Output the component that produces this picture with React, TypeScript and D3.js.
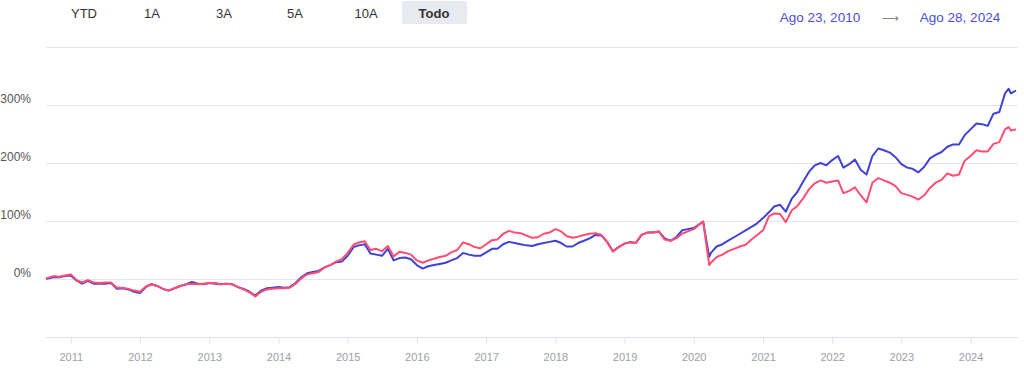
import * as d3 from "d3";
import { useEffect, useRef } from "react";

// fecha de cada punto (mensual, más algún día especial)
const dates = [
  "2010-08-23", "2010-09-01", "2010-10-01", "2010-11-01", "2010-12-01",
  "2011-01-01", "2011-02-01", "2011-03-01", "2011-04-01", "2011-05-01", "2011-06-01",
  "2011-07-01", "2011-08-01", "2011-09-01", "2011-10-01", "2011-11-01", "2011-12-01",
  "2012-01-01", "2012-02-01", "2012-03-01", "2012-04-01", "2012-05-01", "2012-06-01",
  "2012-07-01", "2012-08-01", "2012-09-01", "2012-10-01", "2012-11-01", "2012-12-01",
  "2013-01-01", "2013-02-01", "2013-03-01", "2013-04-01", "2013-05-01", "2013-06-01",
  "2013-07-01", "2013-08-01", "2013-09-01", "2013-10-01", "2013-11-01", "2013-12-01",
  "2014-01-01", "2014-02-01", "2014-03-01", "2014-04-01", "2014-05-01", "2014-06-01",
  "2014-07-01", "2014-08-01", "2014-09-01", "2014-10-01", "2014-11-01", "2014-12-01",
  "2015-01-01", "2015-02-01", "2015-03-01", "2015-04-01", "2015-05-01", "2015-06-01",
  "2015-07-01", "2015-08-01", "2015-09-01", "2015-10-01", "2015-11-01", "2015-12-01",
  "2016-01-01", "2016-02-01", "2016-03-01", "2016-04-01", "2016-05-01", "2016-06-01",
  "2016-07-01", "2016-08-01", "2016-09-01", "2016-10-01", "2016-11-01", "2016-12-01",
  "2017-01-01", "2017-02-01", "2017-03-01", "2017-04-01", "2017-05-01", "2017-06-01",
  "2017-07-01", "2017-08-01", "2017-09-01", "2017-10-01", "2017-11-01", "2017-12-01",
  "2018-01-01", "2018-02-01", "2018-03-01", "2018-04-01", "2018-05-01", "2018-06-01",
  "2018-07-01", "2018-08-01", "2018-09-01", "2018-10-01", "2018-11-01", "2018-12-01",
  "2019-01-01", "2019-02-01", "2019-03-01", "2019-04-01", "2019-05-01", "2019-06-01",
  "2019-07-01", "2019-08-01", "2019-09-01", "2019-10-01", "2019-11-01", "2019-12-01",
  "2020-01-01", "2020-02-20", "2020-03-23", "2020-04-01", "2020-05-01", "2020-06-01",
  "2020-07-01", "2020-08-01", "2020-09-01", "2020-10-01", "2020-11-01", "2020-12-01",
  "2021-01-01", "2021-02-01", "2021-03-01", "2021-04-01", "2021-05-01", "2021-06-01",
  "2021-07-01", "2021-08-01", "2021-09-01", "2021-10-01", "2021-11-01", "2021-12-01",
  "2022-01-01", "2022-02-01", "2022-03-01", "2022-04-01", "2022-05-01", "2022-06-01",
  "2022-07-01", "2022-08-01", "2022-09-01", "2022-10-01", "2022-11-01", "2022-12-01",
  "2023-01-01", "2023-02-01", "2023-03-01", "2023-04-01", "2023-05-01", "2023-06-01",
  "2023-07-01", "2023-08-01", "2023-09-01", "2023-10-01", "2023-11-01", "2023-12-01",
  "2024-01-01", "2024-02-01", "2024-03-01", "2024-04-01", "2024-05-01", "2024-06-01",
  "2024-07-01", "2024-07-20", "2024-08-01", "2024-08-28",
];

// rentabilidad acumulada en %, serie azul
const blueSeries = [
  0, 1, 3, 3, 5,
  6, -3, -8, -3, -8, -8,
  -8, -7, -17, -16, -18, -22,
  -24, -14, -9, -12, -17, -20,
  -16, -12, -9, -5, -8, -9,
  -7, -8, -9, -8, -9, -14,
  -17, -22, -29, -20, -16, -15,
  -14, -15, -14, -7, 3, 10,
  12, 14, 20, 24, 29, 30,
  40, 55, 58, 60, 44, 42,
  40, 52, 32, 36, 37, 34,
  24, 18, 22, 24, 26, 28,
  32, 36, 45, 42, 40, 40,
  46, 52, 52, 60, 64, 62,
  60, 58, 57, 60, 62, 64,
  66, 62, 56, 56, 62, 66,
  70, 76, 75, 64, 48, 55,
  61, 64, 62, 76, 80, 80,
  82, 70, 66, 72, 84, 86,
  88, 99, 38, 45, 56, 60,
  66, 72, 78, 84, 90, 96,
  105, 115, 125, 128, 116, 138,
  150, 168, 185, 196, 200, 196,
  205, 212, 192, 198, 206, 188,
  180, 212, 225, 222, 218, 210,
  198, 192, 190, 184, 193, 208,
  214, 219, 228, 232, 232, 248,
  258, 268, 267, 264, 285, 288,
  320, 328, 320, 325,
];

// rentabilidad acumulada en %, serie roja
const redSeries = [
  0, 2, 5, 4, 6,
  8, -2, -6, -2, -6, -7,
  -6, -6, -15, -15, -17, -20,
  -22, -13, -9, -12, -17, -20,
  -16, -12, -9, -8, -9, -8,
  -7, -7, -9, -8, -9, -14,
  -18, -23, -30, -22, -18, -17,
  -16, -16, -15, -8, 1, 8,
  10, 12, 20, 24, 30, 34,
  45, 59, 63, 65, 50, 52,
  48, 57, 39, 47, 45, 42,
  32, 28, 32, 35, 38, 40,
  46, 50, 63, 60, 55, 53,
  60, 67, 68, 78, 83, 80,
  79, 75, 71, 72, 78, 80,
  86, 82, 74, 71, 73, 76,
  78, 79, 76, 64, 47, 55,
  61, 63, 62, 76, 80, 80,
  82, 68, 66, 70, 78, 82,
  86, 99, 24, 28, 38, 42,
  48, 52, 56, 59, 68, 76,
  84, 108, 113, 112, 98, 118,
  126, 139, 155, 165, 170, 166,
  168, 170, 148, 152, 158, 144,
  132, 166, 174, 170, 166, 160,
  148, 145, 142, 137, 144, 157,
  166, 171, 182, 178, 180, 204,
  212, 222, 220, 220, 233, 236,
  258, 262, 256, 258,
];

const yTicks = [0, 100, 200, 300];
const gridValues = [0, 100, 200, 300, 400];
const rangeButtons = ["YTD", "1A", "3A", "5A", "10A", "Todo"];
const startLabel = "Ago 23, 2010";
const endLabel = "Ago 28, 2024";

const W = 1024;
const H = 370;
const margin = { top: 47, right: 8, bottom: 33, left: 46 };

export default function App() {
  const svgRef = useRef<SVGSVGElement>(null);

  useEffect(() => {
    document.body.style.margin = "0";
    const svg = d3.select(svgRef.current).html("");
    const font = "'Liberation Sans', Arial, sans-serif";

    const parse = d3.timeParse("%Y-%m-%d");
    const times = dates.map((d) => parse(d) as Date);

    const x = d3
      .scaleTime()
      .domain([times[0], times[times.length - 1]])
      .range([margin.left, W - margin.right]);
    const y = d3
      .scaleLinear()
      .domain([-100, 400])
      .range([H - margin.bottom, margin.top]);

    // botones de rango
    const btnX = [84, 152, 224, 295, 366, 434];
    svg
      .append("rect")
      .attr("x", 402)
      .attr("y", 1)
      .attr("width", 65)
      .attr("height", 23)
      .attr("rx", 2)
      .attr("fill", "#e7eaf0");
    svg
      .selectAll(".btn")
      .data(rangeButtons)
      .enter()
      .append("text")
      .attr("x", (_, i) => btnX[i])
      .attr("y", 17.5)
      .attr("text-anchor", "middle")
      .attr("font-family", font)
      .attr("font-size", 13)
      .attr("font-weight", (d) => (d === "Todo" ? "bold" : "normal"))
      .attr("fill", "#333")
      .text((d) => d);

    // rango de fechas
    svg
      .append("text")
      .attr("x", 820)
      .attr("y", 22)
      .attr("text-anchor", "middle")
      .attr("font-family", font)
      .attr("font-size", 13.5)
      .attr("fill", "#4b4fd6")
      .text(startLabel);
    svg
      .append("text")
      .attr("x", 890)
      .attr("y", 22)
      .attr("text-anchor", "middle")
      .attr("font-family", "'DejaVu Sans', sans-serif")
      .attr("font-size", 12)
      .attr("fill", "#888")
      .text("⟶");
    svg
      .append("text")
      .attr("x", 960)
      .attr("y", 22)
      .attr("text-anchor", "middle")
      .attr("font-family", font)
      .attr("font-size", 13.5)
      .attr("fill", "#4b4fd6")
      .text(endLabel);

    // rejilla
    svg
      .append("g")
      .selectAll("line")
      .data(gridValues)
      .enter()
      .append("line")
      .attr("x1", margin.left)
      .attr("x2", W - margin.right + 2)
      .attr("y1", (d) => Math.round(y(d)) + 0.5)
      .attr("y2", (d) => Math.round(y(d)) + 0.5)
      .attr("stroke", "#e6e6e6")
      .attr("stroke-width", 1);

    // etiquetas eje Y
    svg
      .append("g")
      .selectAll("text")
      .data(yTicks)
      .enter()
      .append("text")
      .attr("x", 31)
      .attr("y", (d) => y(d) - 2)
      .attr("text-anchor", "end")
      .attr("font-family", font)
      .attr("font-size", 12)
      .attr("fill", "#555")
      .text((d) => `${d}%`);

    // eje X
    const xAxis = svg
      .append("g")
      .attr("transform", `translate(0,${Math.round(y(-100)) + 0.5})`)
      .call(
        d3
          .axisBottom(x)
          .ticks(d3.timeYear.every(1))
          .tickFormat((d) => d3.timeFormat("%Y")(d as Date))
          .tickSize(6)
          .tickSizeOuter(0)
      );
    xAxis.select(".domain").attr("stroke", "#dde1e8").attr("d", `M${margin.left},0H${W - margin.right + 2}`);
    xAxis.selectAll(".tick line").attr("stroke", "#dde1e8");
    xAxis
      .selectAll(".tick text")
      .attr("font-family", font)
      .attr("font-size", 11)
      .attr("fill", "#9aa0aa")
      .attr("dy", "1.3em");

    const line = d3
      .line<number>()
      .x((_, i) => x(times[i]))
      .y((d) => y(d))
      .curve(d3.curveLinear);

    svg
      .append("path")
      .datum(blueSeries)
      .attr("d", line)
      .attr("fill", "none")
      .attr("stroke", "#3f42d4")
      .attr("stroke-width", 2)
      .attr("stroke-linejoin", "round");

    svg
      .append("path")
      .datum(redSeries)
      .attr("d", line)
      .attr("fill", "none")
      .attr("stroke", "#ff4d73")
      .attr("stroke-width", 2)
      .attr("stroke-linejoin", "round");
  }, []);

  return (
    <div style={{ position: "absolute", left: 0, top: 0 }}>
      <svg ref={svgRef} width={W} height={H} style={{ display: "block" }} />
    </div>
  );
}
